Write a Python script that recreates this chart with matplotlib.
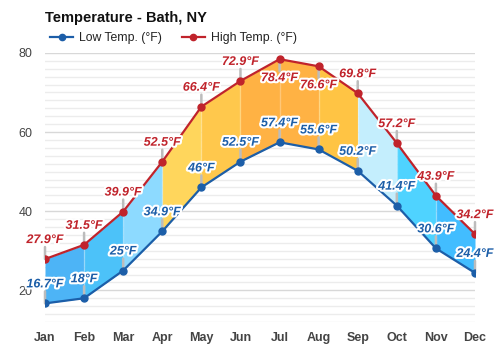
import matplotlib.pyplot as plt
import matplotlib.patheffects as pe
from matplotlib.lines import Line2D

months = ['Jan', 'Feb', 'Mar', 'Apr', 'May', 'Jun', 'Jul', 'Aug', 'Sep', 'Oct', 'Nov', 'Dec']
low = [16.7, 18, 25, 34.9, 46, 52.5, 57.4, 55.6, 50.2, 41.4, 30.6, 24.4]
high = [27.9, 31.5, 39.9, 52.5, 66.4, 72.9, 78.4, 76.6, 69.8, 57.2, 43.9, 34.2]
low_labels = ['16.7°F', '18°F', '25°F', '34.9°F', '46°F', '52.5°F', '57.4°F', '55.6°F', '50.2°F', '41.4°F', '30.6°F', '24.4°F']
high_labels = ['27.9°F', '31.5°F', '39.9°F', '52.5°F', '66.4°F', '72.9°F', '78.4°F', '76.6°F', '69.8°F', '57.2°F', '43.9°F', '34.2°F']
# colour of the band between two months
seg_colors = ['#4db4f6', '#4cc2f9', '#8ddaff', '#ffd65c', '#ffc84c', '#ffb244',
              '#ffb244', '#ffc444', '#c4eefd', '#4fd3ff', '#42bdff']

LOW_C = '#1c5ea8'
HIGH_C = '#c0232b'

plt.rcParams['font.family'] = ['Liberation Sans', 'DejaVu Sans']

fig = plt.figure(figsize=(5, 3.5), dpi=100)
ax = fig.add_axes([0.09, 0.08, 0.86, 0.769])
x = list(range(len(months)))

for i in range(len(x) - 1):
    ax.fill_between(x[i:i + 2], low[i:i + 2], high[i:i + 2], color=seg_colors[i], lw=0, zorder=1)

# grid
for v in range(12, 81, 2):
    major = v % 20 == 0
    ax.axhline(v, color='#d8d8d8' if major else '#ececec', lw=1.0, zorder=0)

ax.vlines(x[1:-1], low[1:-1], high[1:-1], color='white', alpha=0.25, lw=1, zorder=1.5)

ax.plot(x, low, color=LOW_C, lw=1.6, marker='o', ms=5, zorder=4)
ax.plot(x, high, color=HIGH_C, lw=1.6, marker='o', ms=5, zorder=4)

outline = [pe.withStroke(linewidth=3, foreground='white')]

def put_label(xi, yi, txt, col, up=True):
    d = 1 if up else -1
    ax.annotate('', xy=(xi, yi), xytext=(0, d * 12), textcoords='offset pixels',
                arrowprops=dict(arrowstyle='-', color='#bcbcbc', lw=1.8, shrinkA=0, shrinkB=0),
                zorder=3)
    ax.annotate(txt, xy=(xi, yi), xytext=(0, d * 19), textcoords='offset pixels',
                ha='center', va='center', fontsize=9, fontweight='bold', fontstyle='italic',
                color=col, path_effects=outline, zorder=6)

for i in x:
    put_label(i, high[i], high_labels[i], HIGH_C, up=high[i] < 75)
    put_label(i, low[i], low_labels[i], LOW_C)

ax.set_xlim(0, 11)
ax.set_ylim(12, 80)
ax.set_xticks(x)
ax.set_xticklabels(months, fontweight='bold', fontsize=9, color='#333333')
ax.set_yticks([20, 40, 60, 80])
ax.tick_params(axis='both', length=0, labelsize=9, colors='#444444')
ax.tick_params(axis='x', pad=7)
ax.tick_params(axis='y', pad=9)
for s in ax.spines.values():
    s.set_visible(False)

fig.text(0.09, 0.948, 'Temperature - Bath, NY', fontsize=10.5, fontweight='bold', va='center', color='#111111')
handles = [Line2D([0], [0], color=LOW_C, lw=1.6, marker='o', ms=4.5),
           Line2D([0], [0], color=HIGH_C, lw=1.6, marker='o', ms=4.5)]
fig.legend(handles, ['Low Temp. (°F)', 'High Temp. (°F)'], loc='center left',
           bbox_to_anchor=(0.078, 0.89), ncol=2, frameon=False, fontsize=8.8,
           handlelength=1.9, handletextpad=0.5, columnspacing=1.6, labelcolor='#222222')

fig.savefig('out.png', dpi=100)
